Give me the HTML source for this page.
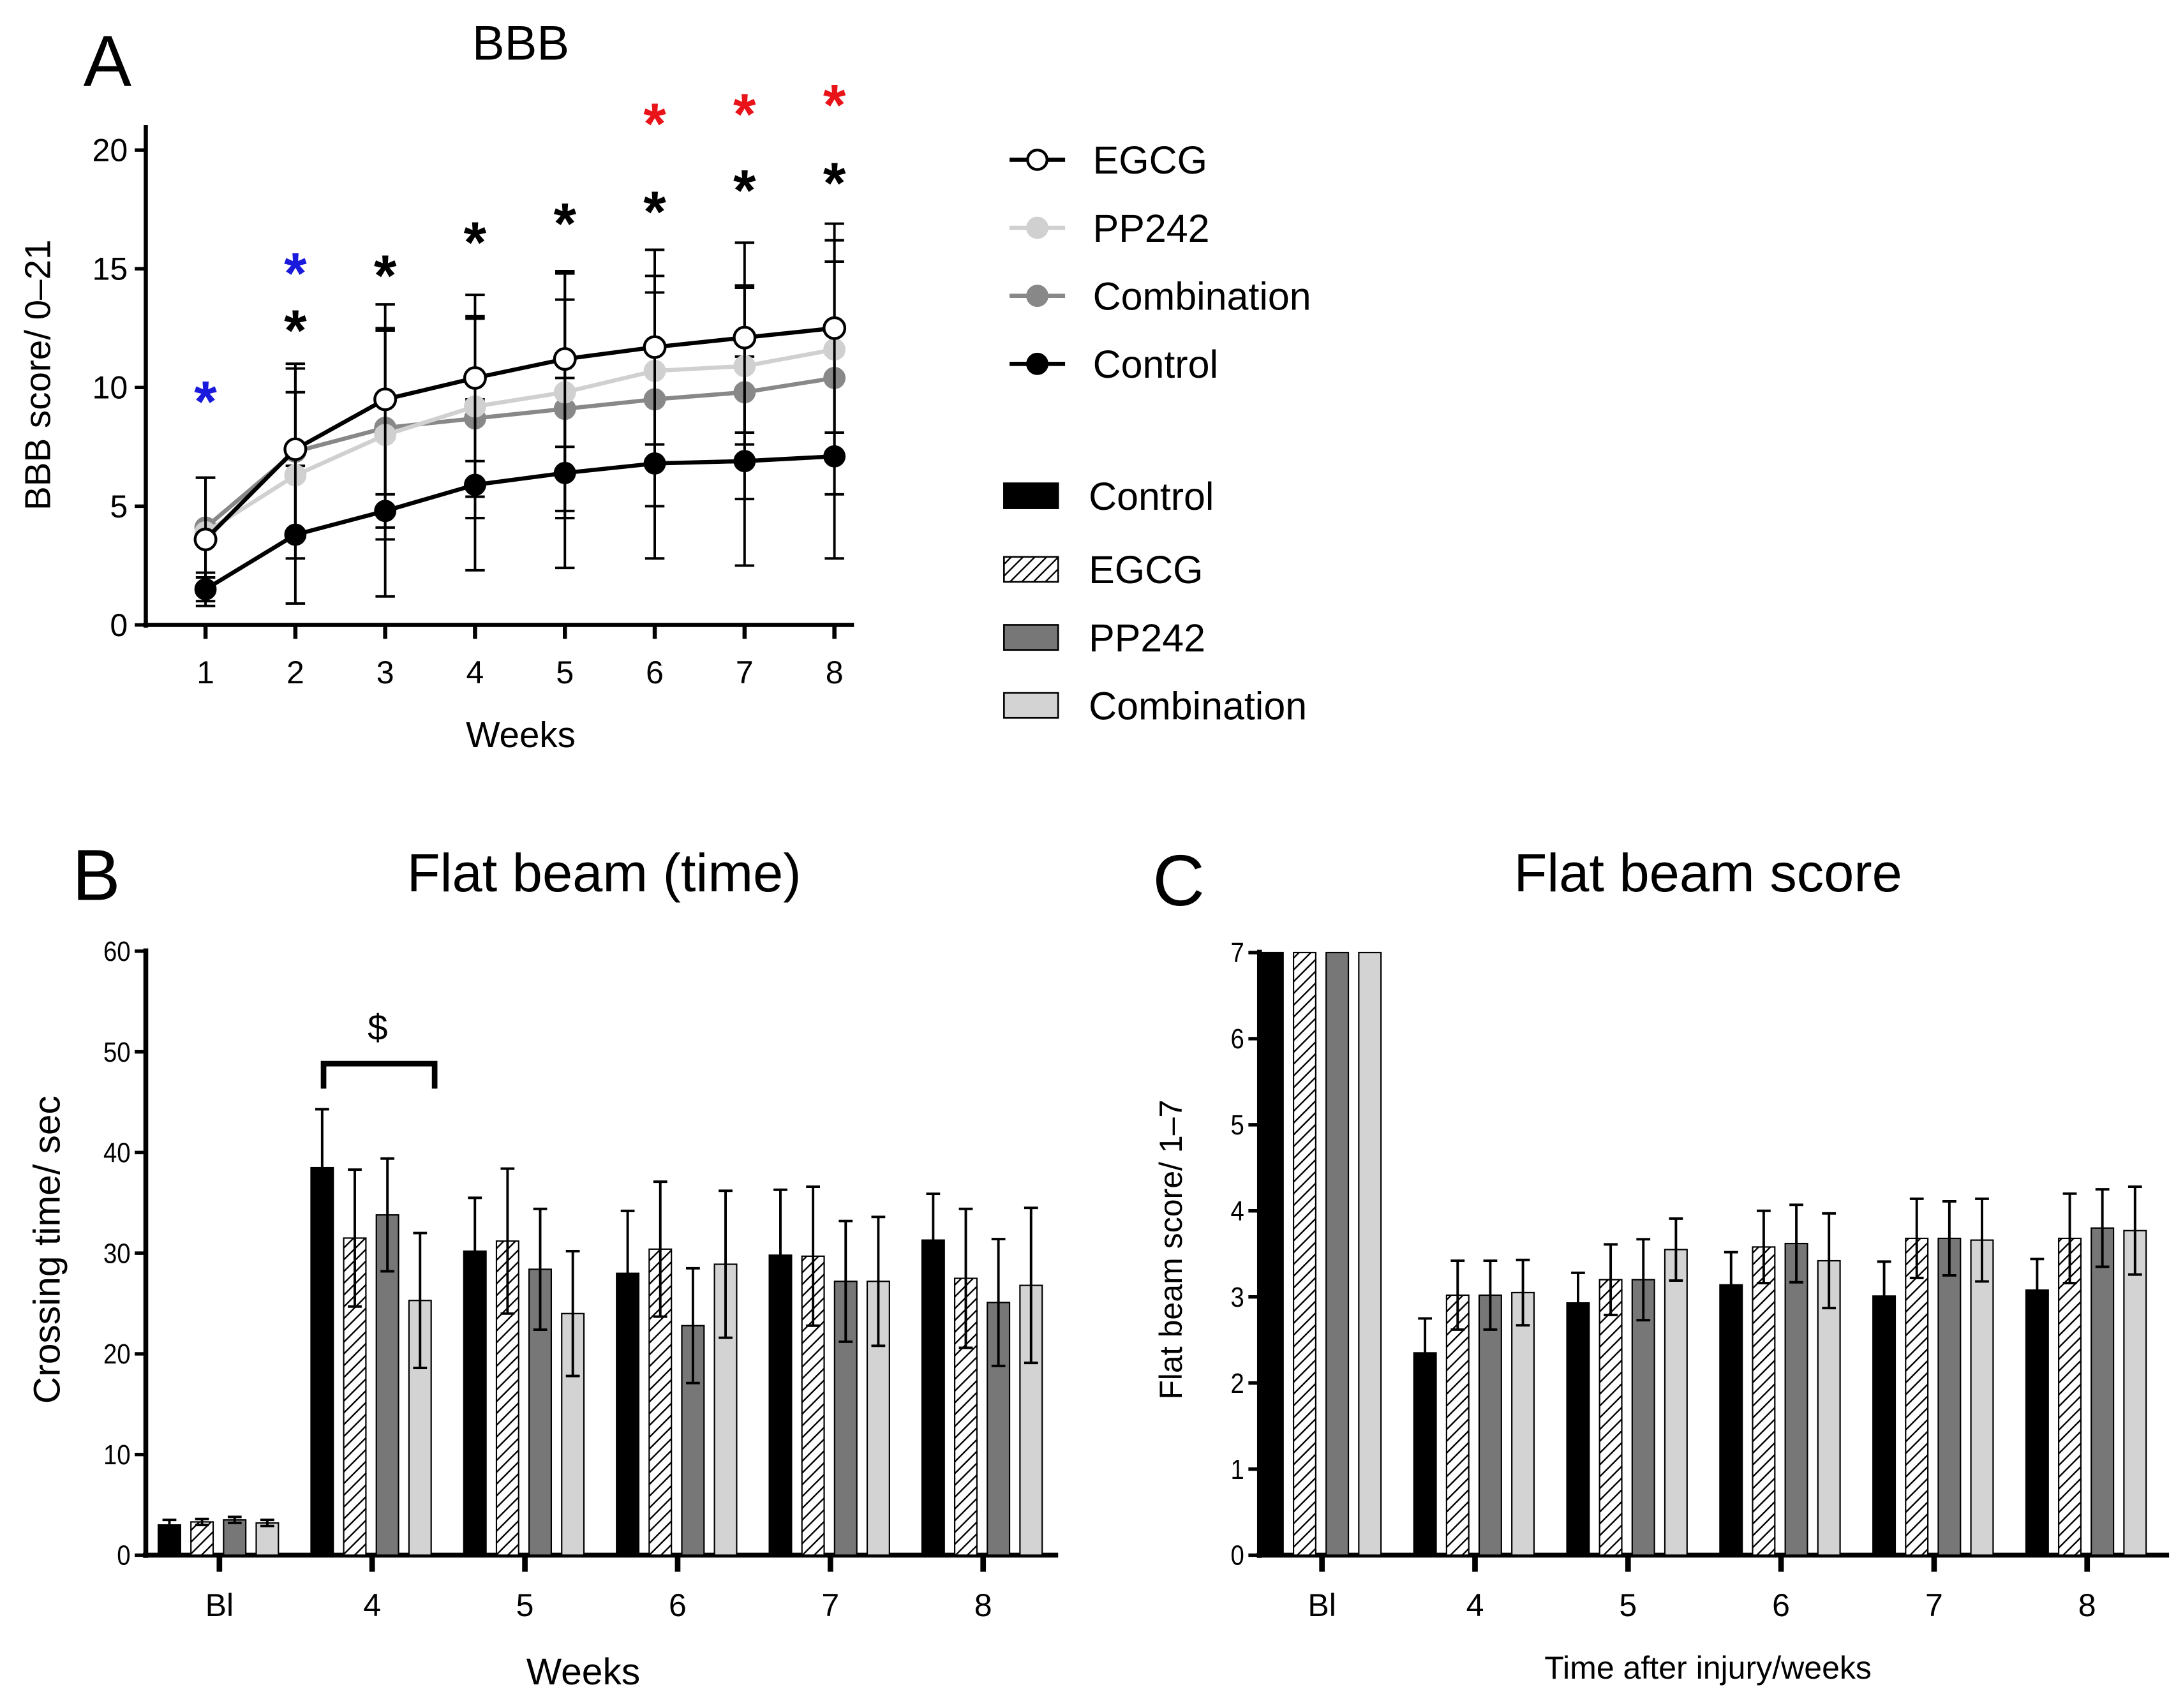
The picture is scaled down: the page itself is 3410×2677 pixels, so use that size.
<!DOCTYPE html>
<html><head><meta charset="utf-8">
<style>html,body{margin:0;padding:0;background:#fff}svg{display:block}text{font-family:"Liberation Sans",Arial,sans-serif}</style>
</head><body>
<svg id="fig" width="3410" height="2677" viewBox="0 0 1567 1230" xmlns="http://www.w3.org/2000/svg">
<defs>
<pattern id="hatch" patternUnits="userSpaceOnUse" width="6" height="6" patternTransform="rotate(45)">
<rect width="6" height="6" fill="#fff"/><line x1="0" y1="0" x2="0" y2="6" stroke="#000" stroke-width="2.2"/>
</pattern>
</defs>
<g id="gA"></g>
<g id="gB"></g>
<g id="gC"></g>
</svg>
<script>
// Panel A data
const weeksA = [1,2,3,4,5,6,7,8];
const ticksA = [0,5,10,15,20];
const egcgMean = [3.6,7.4,9.5,10.4,11.2,11.7,12.1,12.5];
const egcgSD = [2.6,3.6,4.0,3.5,3.7,4.1,4.0,4.4];
const pp242Mean = [3.9,6.3,8.0,9.2,9.8,10.7,10.9,11.6];
const pp242SD = [2.3,3.5,4.4,3.8,5.0,4.0,3.3,4.6];
const combMean = [4.1,7.3,8.3,8.7,9.1,9.5,9.8,10.4];
const combSD = [2.1,3.5,4.2,4.2,4.6,4.5,4.5,4.9];
const ctrlMean = [1.5,3.8,4.8,5.9,6.4,6.8,6.9,7.1];
const ctrlSD = [0.7,2.9,3.6,3.6,4.0,4.0,4.4,4.3];
const blueStarWeeks = [1,2];
const blueStarY = [9.8,15.2];
const blackStarWeeks = [2,3,4,5,6,7,8];
const blackStarY = [12.8,15.1,16.5,17.3,17.8,18.7,19.0];
const redStarWeeks = [6,7,8];
const redStarY = [21.5,21.9,22.3];
// Panel B data
const groupsB = ["Bl","4","5","6","7","8"];
const ticksB = [0,10,20,30,40,50,60];
const bCtrl = [3.0,38.5,30.2,28.0,29.8,31.3];
const bCtrlErr = [0.5,5.8,5.3,6.2,6.5,4.6];
const bEgcg = [3.3,31.5,31.2,30.4,29.7,27.5];
const bEgcgErr = [0.3,6.8,7.2,6.7,6.9,6.9];
const bPp = [3.5,33.8,28.4,22.8,27.2,25.1];
const bPpErr = [0.3,5.6,6.0,5.7,6.0,6.3];
const bComb = [3.2,25.3,24.0,28.9,27.2,26.8];
const bCombErr = [0.3,6.7,6.2,7.3,6.4,7.7];
// Panel C data
const groupsC = ["Bl","4","5","6","7","8"];
const ticksC = [0,1,2,3,4,5,6,7];
const cCtrl = [7,2.35,2.93,3.14,3.01,3.08];
const cCtrlErr = [0,0.4,0.35,0.38,0.4,0.36];
const cEgcg = [7,3.02,3.2,3.58,3.68,3.68];
const cEgcgErr = [0,0.4,0.41,0.42,0.46,0.52];
const cPp = [7,3.02,3.2,3.62,3.68,3.8];
const cPpErr = [0,0.4,0.47,0.45,0.43,0.45];
const cComb = [7,3.05,3.55,3.42,3.66,3.77];
const cCombErr = [0,0.38,0.36,0.55,0.48,0.51];

const NS="http://www.w3.org/2000/svg";
function mk(parent,tag,attrs,txt){const e=document.createElementNS(NS,tag);for(const k in attrs)e.setAttribute(k,attrs[k]);if(txt!==undefined)e.textContent=txt;parent.appendChild(e);return e;}
function line(p,x1,y1,x2,y2,w,c){return mk(p,'line',{x1,y1,x2,y2,stroke:c||'#000','stroke-width':w});}

// ---------- Panel A ----------
const A=document.getElementById('gA');
const yA=v=>450-v*17.1;
const xA=w=>148+(w-1)*64.7;
let t;
t=mk(A,'text',{x:60,y:62,'font-size':52},'A');
t=mk(A,'text',{x:375,y:43,'font-size':35,'text-anchor':'middle'},'BBB');
line(A,105,90,105,452,3);line(A,103,450,615,450,3);
ticksA.forEach(v=>{line(A,97,yA(v),105,yA(v),2.5);t=mk(A,'text',{x:92,y:yA(v)+8,'font-size':23,'text-anchor':'end'},v);});
weeksA.forEach(w=>{line(A,xA(w),450,xA(w),460,3);t=mk(A,'text',{x:xA(w),y:492,'font-size':23,'text-anchor':'middle'},w);});
t=mk(A,'text',{x:375,y:538,'font-size':26,'text-anchor':'middle'},'Weeks');
t=mk(A,'text',{x:0,y:0,'font-size':26,'text-anchor':'middle',transform:'translate(36,270) rotate(-90)'},'BBB score/ 0–21');
const seriesA=[
 {name:'control',m:ctrlMean,s:ctrlSD,line:'#000',fill:'#000',stroke:'#000'},
 {name:'combination',m:combMean,s:combSD,line:'#888',fill:'#888',stroke:'#888'},
 {name:'pp242',m:pp242Mean,s:pp242SD,line:'#d0d0d0',fill:'#d0d0d0',stroke:'#d0d0d0'},
 {name:'egcg',m:egcgMean,s:egcgSD,line:'#000',fill:'#fff',stroke:'#000'}];
seriesA.forEach(sr=>{
 const g=mk(A,'g',{});
 weeksA.forEach((w,i)=>{const x=xA(w);const lo=yA(sr.m[i]-sr.s[i]),hi=yA(sr.m[i]+sr.s[i]);
  line(g,x,lo,x,hi,1.8,'#000');line(g,x-7,lo,x+7,lo,1.8,'#000');line(g,x-7,hi,x+7,hi,1.8,'#000');});
 const pts=weeksA.map((w,i)=>xA(w)+','+yA(sr.m[i])).join(' ');
 const pl=mk(g,'polyline',{points:pts,fill:'none',stroke:sr.line,'stroke-width':3});
 
 weeksA.forEach((w,i)=>{const c=mk(g,'circle',{cx:xA(w),cy:yA(sr.m[i]),r:sr.name==='egcg'?7.5:7,fill:sr.fill,stroke:sr.stroke,'stroke-width':2});});
});
function stars(ws,ys,col){ws.forEach((w,i)=>{const s=mk(A,'text',{x:xA(w),y:yA(ys[i])+21,'font-size':42,'font-weight':'bold','text-anchor':'middle',fill:col},'*');});}
stars(blueStarWeeks,blueStarY,'#1a1adc');stars(blackStarWeeks,blackStarY,'#000');stars(redStarWeeks,redStarY,'#e8141a');
// legend A
const legA=[['EGCG','#000','#fff','#000',115],['PP242','#d0d0d0','#d0d0d0','#d0d0d0',164],['Combination','#888','#888','#888',213],['Control','#000','#000','#000',262]];
legA.forEach(l=>{const g=mk(A,'g',{});
 line(g,727,l[4],767,l[4],3,l[1]);mk(g,'circle',{cx:747,cy:l[4],r:7,fill:l[2],stroke:l[3],'stroke-width':2});
 mk(g,'text',{x:787,y:l[4]+10,'font-size':28},l[0]);});
const legB=[['Control','#000',357],['EGCG','url(#hatch)',410],['PP242','#777',459],['Combination','#d3d3d3',508]];
legB.forEach(l=>{const g=mk(A,'g',{});
 mk(g,'rect',{x:723,y:l[2]-9,width:39,height:18,fill:l[1],stroke:'#000','stroke-width':1.2});
 mk(g,'text',{x:784,y:l[2]+10,'font-size':28},l[0]);});

// ---------- Bar panels ----------
const seriesStyle=[{n:'control',f:'#000'},{n:'egcg',f:'url(#hatch)'},{n:'pp242',f:'#777'},{n:'combination',f:'#d3d3d3'}];
const offs=[-36,-12.5,11,34.5];
function barPanel(P,opt){
 const y=v=>opt.base-(v-opt.min)*opt.ppu;
 line(P,opt.ax,opt.top,opt.ax,opt.base+2,3.5);line(P,opt.ax-2,opt.base,opt.xEnd,opt.base,3.5);
 opt.ticks.forEach(v=>{line(P,opt.ax-8,y(v),opt.ax,y(v),2.5);t=mk(P,'text',{x:opt.ax-11,y:y(v)+7,'font-size':opt.tfs,'text-anchor':'end',transform:'scale(0.88,1)',style:'transform-box:fill-box;transform-origin:right center'},v);});
 opt.groups.forEach((gname,gi)=>{const cx=opt.gx(gi);line(P,cx,opt.base,cx,opt.base+12,4);
  t=mk(P,'text',{x:cx,y:opt.base+44,'font-size':23,'text-anchor':'middle'},gname);
  opt.data.forEach((d,si)=>{const v=d[0][gi],e=d[1][gi];const bx=cx+offs[si]-opt.bw/2;
   const r=mk(P,'rect',{x:bx,y:y(v),width:opt.bw,height:opt.base-y(v),fill:seriesStyle[si].f,stroke:'#000','stroke-width':1});
   
   if(e>0){const bc=cx+offs[si];const hi=y(v+e),lo=si===0?y(v):y(v-e);
    line(P,bc,lo,bc,hi,1.8);line(P,bc-5,hi,bc+5,hi,1.8);if(si!==0)line(P,bc-5,lo,bc+5,lo,1.8);}
  });
 });
}
const B=document.getElementById('gB');
t=mk(B,'text',{x:52,y:648,'font-size':52},'B');
t=mk(B,'text',{x:435,y:642,'font-size':39,'text-anchor':'middle'},'Flat beam (time)');
barPanel(B,{ax:105,top:683,base:1120,xEnd:762,min:0,ppu:435/60,ticks:ticksB,tfs:20,groups:groupsB,gx:i=>158+i*110,bw:16,
 data:[[bCtrl,bCtrlErr],[bEgcg,bEgcgErr],[bPp,bPpErr],[bComb,bCombErr]]});
t=mk(B,'text',{x:420,y:1213,'font-size':27,'text-anchor':'middle'},'Weeks');
t=mk(B,'text',{x:0,y:0,'font-size':27,'text-anchor':'middle',transform:'translate(43,900) rotate(-90)'},'Crossing time/ sec');
const br=mk(B,'polyline',{points:'233,784 233,766 313,766 313,784',fill:'none',stroke:'#000','stroke-width':4});
t=mk(B,'text',{x:272,y:749,'font-size':26,'text-anchor':'middle'},'$');

const C=document.getElementById('gC');
t=mk(C,'text',{x:830,y:652,'font-size':52},'C');
t=mk(C,'text',{x:1230,y:642,'font-size':39,'text-anchor':'middle'},'Flat beam score');
barPanel(C,{ax:907,top:684,base:1120,xEnd:1562,min:0,ppu:434/7,ticks:ticksC,tfs:20,groups:groupsC,gx:i=>952+i*110.2,bw:16,
 data:[[cCtrl,cCtrlErr],[cEgcg,cEgcgErr],[cPp,cPpErr],[cComb,cCombErr]]});
t=mk(C,'text',{x:1230,y:1209,'font-size':23,'text-anchor':'middle'},'Time after injury/weeks');
t=mk(C,'text',{x:0,y:0,'font-size':23,'text-anchor':'middle',transform:'translate(851,900) rotate(-90)'},'Flat beam score/ 1–7');
</script>
</body></html>
